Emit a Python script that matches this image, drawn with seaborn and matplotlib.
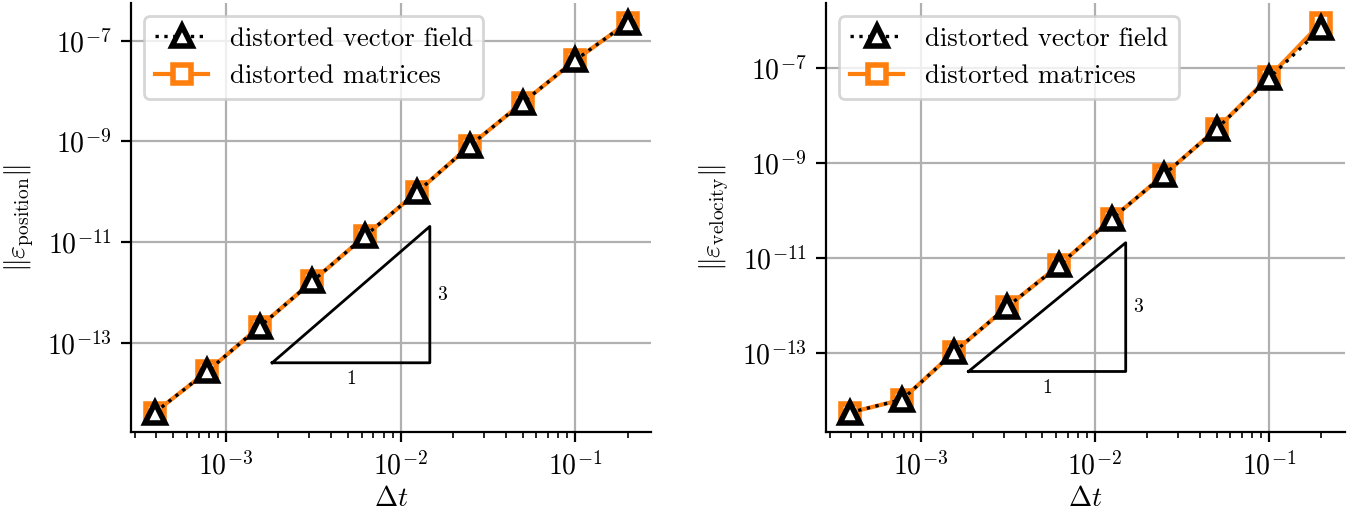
import numpy as np
import seaborn as sns
import matplotlib.pyplot as plt

# time steps (halved each refinement)
dt = [0.2, 0.1, 0.05, 0.025, 0.0125, 0.00625, 0.003125, 0.0015625, 0.00078125, 0.000390625]

# left panel: position error
pos_vector_field = [2.3e-7, 4.1e-8, 5.9e-9, 8.3e-10, 1.0e-10, 1.32e-11, 1.66e-12, 2.1e-13, 2.7e-14, 4.1e-15]
pos_matrices = [2.3e-7, 4.1e-8, 5.9e-9, 8.3e-10, 1.0e-10, 1.32e-11, 1.66e-12, 2.1e-13, 2.7e-14, 4.1e-15]

# right panel: velocity error
vel_vector_field = [6.8e-7, 6.1e-8, 5.2e-9, 5.7e-10, 6.7e-11, 7.1e-12, 9.3e-13, 1.07e-13, 1.05e-14, 5.6e-15]
vel_matrices = [9.0e-7, 6.4e-8, 5.2e-9, 5.7e-10, 6.7e-11, 7.1e-12, 9.3e-13, 1.07e-13, 1.05e-14, 5.6e-15]

# slope triangle anchors (lower left corner), run factor, order
tri_pos = (1.84e-3, 4.0e-14)
tri_vel = (1.88e-3, 4.1e-14)
tri_run = 8.0
tri_order = 3

plt.rcParams.update({
    "font.family": "serif",
    "font.serif": ["cmr10"],
    "mathtext.fontset": "cm",
    "axes.formatter.use_mathtext": True,
    "font.size": 10,
    "axes.unicode_minus": False,
})

fig = plt.figure(figsize=(6.81, 2.575), dpi=200)
ax1 = fig.add_axes([0.0962, 0.161, 0.382, 0.833])
ax2 = fig.add_axes([0.6065, 0.161, 0.381, 0.833])


def draw_panel(ax, vf, mat, tri, ylabel):
    sns.lineplot(x=dt, y=mat, ax=ax, color="#ff7f0e", lw=1.5, marker="s", ms=6.5,
                 mfc="white", mec="#ff7f0e", mew=2.0, label="distorted matrices", zorder=3)
    sns.lineplot(x=dt, y=vf, ax=ax, color="black", lw=1.2, linestyle=":", marker="^", ms=7,
                 mfc="white", mec="black", mew=2.0, label="distorted vector field", zorder=4)
    ax.set_xscale("log")
    ax.set_yscale("log")
    ax.grid(True, which="major", color="#b0b0b0", lw=0.8)
    ax.set_axisbelow(True)
    sns.despine(ax=ax)

    # slope triangle
    x0, y0 = tri
    x1 = x0 * tri_run
    y1 = y0 * tri_run ** tri_order
    ax.plot([x0, x1, x1, x0], [y0, y0, y1, y0], color="black", lw=1.0, zorder=2)
    ax.annotate("1", (np.sqrt(x0 * x1), y0), xytext=(0, -6), textcoords="offset points",
                ha="center", va="center", fontsize=7)
    ax.annotate("3", (x1, np.sqrt(y0 * y1)), xytext=(2.5, 0), textcoords="offset points",
                ha="left", va="center", fontsize=7)

    ax.set_xlabel(r"$\Delta t$", labelpad=2)
    ax.set_ylabel(ylabel)
    h, l = ax.get_legend_handles_labels()
    ax.legend(h[::-1], l[::-1], loc="upper left", fontsize=9.6)


draw_panel(ax1, pos_vector_field, pos_matrices, tri_pos,
           r"$\Vert\boldsymbol{\varepsilon}_{\mathrm{position}}\Vert$")
draw_panel(ax2, vel_vector_field, vel_matrices, tri_vel,
           r"$\Vert\boldsymbol{\varepsilon}_{\mathrm{velocity}}\Vert$")

fig.savefig("out.png", dpi=200)
